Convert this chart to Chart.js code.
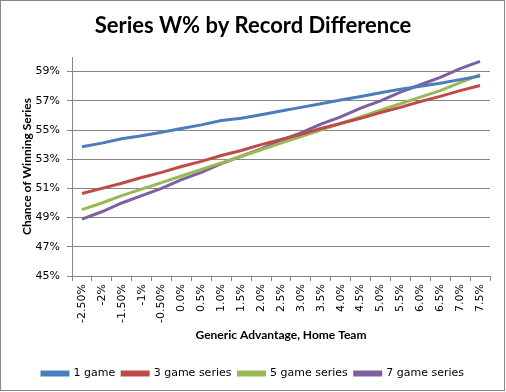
<!DOCTYPE html>
<html><head><meta charset="utf-8">
<script src="https://cdn.jsdelivr.net/npm/chart.js"></script>
<style>html,body{margin:0;padding:0;background:#fff}</style>
</head><body>
<canvas id="c" width="506" height="392" style="width:506px;height:392px;display:block"></canvas>
<script>
const categories = ['-2.50%','-2%','-1.50%','-1%','-0.50%','0.0%','0.5%','1.0%','1.5%','2.0%','2.5%','3.0%','3.5%','4.0%','4.5%','5.0%','5.5%','6.0%','6.5%','7.0%','7.5%'];
const oneGame    = [53.85,54.1,54.4,54.6,54.85,55.1,55.35,55.65,55.8,56.05,56.3,56.55,56.8,57.05,57.3,57.55,57.8,58.0,58.2,58.45,58.7];
const threeGame  = [50.65,51.0,51.35,51.75,52.1,52.5,52.85,53.25,53.6,54.0,54.35,54.7,55.1,55.45,55.8,56.2,56.55,56.95,57.3,57.7,58.05];
const fiveGame   = [49.55,50.0,50.5,50.95,51.4,51.85,52.3,52.75,53.2,53.65,54.1,54.55,55.0,55.45,55.9,56.35,56.8,57.25,57.7,58.25,58.8];
const sevenGame  = [48.9,49.4,50.0,50.5,51.0,51.6,52.1,52.7,53.2,53.7,54.3,54.8,55.4,55.9,56.5,57.0,57.6,58.1,58.6,59.2,59.7];
const seriesNames = ['1 game','3 game series','5 game series','7 game series'];
const yTicks = [45,47,49,51,53,55,57,59];

const colors = ['#4A7EBB','#BE4B48','#98B954','#7D60A0'];
const gridColor = '#868686';

const frame = {
  id:'frame',
  beforeDraw(chart){const c=chart.ctx;c.save();c.fillStyle='#fff';c.fillRect(0,0,chart.width,chart.height);c.restore();},
  afterDraw(chart){const c=chart.ctx;c.save();c.strokeStyle='#888';c.lineWidth=1;c.strokeRect(0.5,0.5,504,390);c.restore();}
};

new Chart(document.getElementById('c'), {
  type:'line',
  data:{
    labels:categories,
    datasets:[oneGame,threeGame,fiveGame,sevenGame].map((d,i)=>({
      label:seriesNames[i], data:d, borderColor:colors[i], backgroundColor:colors[i],
      borderWidth:3, pointRadius:0, tension:0, fill:false
    }))
  },
  options:{
    responsive:false, animation:false, devicePixelRatio:1,
    layout:{padding:{left:0,right:0,top:0,bottom:3}},
    plugins:{
      title:{display:true,text:'Series W% by Record Difference',color:'#000',
        font:{family:'Lato',size:22,weight:'bold'},padding:{top:13,bottom:17.6}},
      legend:{position:'bottom',labels:{boxWidth:26,boxHeight:3,padding:7,color:'#000',
        font:{family:'DejaVu Sans',size:11}}},
      tooltip:{enabled:false}
    },
    scales:{
      x:{
        offset:true,
        grid:{drawOnChartArea:false,offset:true,tickLength:5,color:gridColor},
        border:{color:gridColor},
        ticks:{maxRotation:90,minRotation:90,padding:3,color:'#000',autoSkip:false,
          font:{family:'DejaVu Sans',size:11}},
        title:{display:true,text:'Generic Advantage, Home Team',color:'#000',
          font:{family:'Lato',size:12,weight:'bold'},padding:{top:0,bottom:19}},
        afterFit(s){s.height=85;}
      },
      y:{
        min:45,max:60,
        afterBuildTicks(s){s.ticks=yTicks.map(v=>({value:v}));},
        grid:{color:gridColor,tickLength:5},
        border:{color:gridColor},
        ticks:{padding:7,color:'#000',font:{family:'DejaVu Sans',size:11},callback:v=>v+'%'},
        title:{display:true,text:'Chance of Winning Series',color:'#000',
          font:{family:'Lato',size:12,weight:'bold'},padding:{top:20,bottom:0}},
        afterFit(s){s.width=72;}
      },
      yRight:{
        position:'right', min:45, max:60,
        grid:{display:false}, border:{display:false}, ticks:{display:false},
        afterFit(s){s.width=16;}
      }
    }
  },
  plugins:[frame]
});
</script>
</body></html>
